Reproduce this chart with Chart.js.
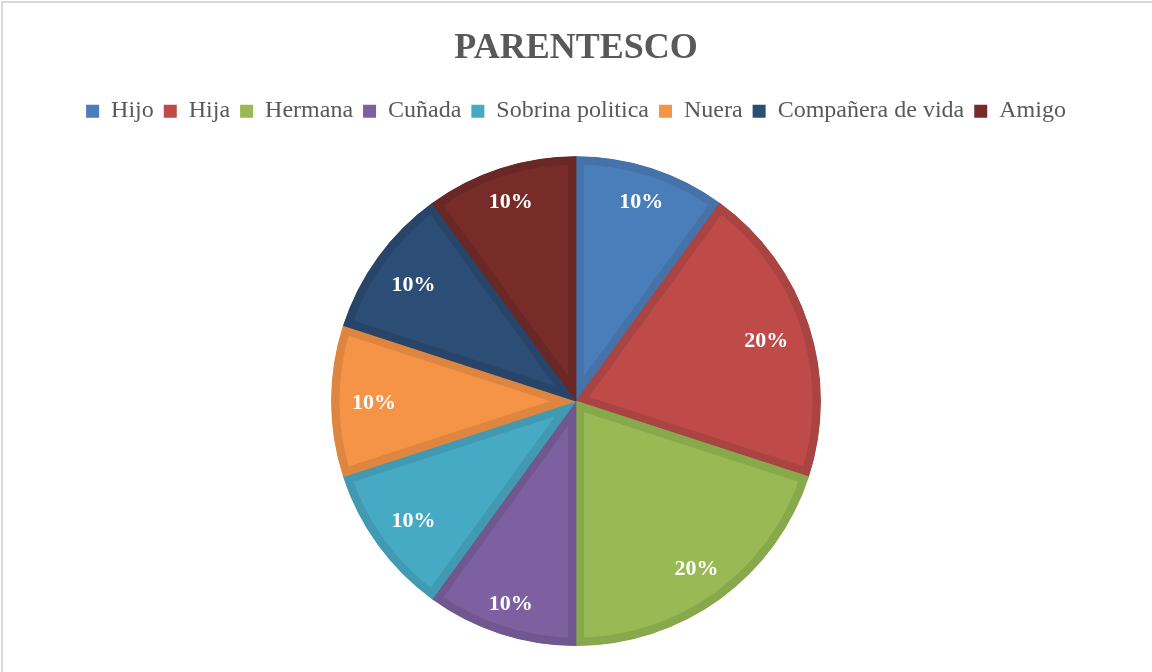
<!DOCTYPE html>
<html lang="es">
<head>
    <meta charset="UTF-8">
    <title>Parentesco</title>
    <script src="https://cdn.jsdelivr.net/npm/chart.js"></script>
    <style>
        body {
            margin: 0;
            background: #ffffff;
        }
        .chart-container {
            position: relative;
            width: 1152px;
            height: 672px;
        }
        .frame {
            position: absolute;
            left: 1px;
            top: 1px;
            right: 0;
            bottom: 0;
            border-top: 2px solid #d9d9d9;
            border-left: 2px solid #d9d9d9;
            pointer-events: none;
        }
    </style>
</head>
<body>
    <div class="chart-container">
        <canvas id="pieChart"></canvas>
        <div class="frame"></div>
    </div>

    <script>
        // data
        var categories = ["Hijo", "Hija", "Hermana", "Cuñada", "Sobrina politica", "Nuera", "Compañera de vida", "Amigo"];
        var percents = [10, 20, 20, 10, 10, 10, 10, 10];

        var fillColors = ["#4a7ebb", "#be4b48", "#98b954", "#7d60a0", "#46aac5", "#f59446", "#2c4d75", "#772c2a"];
        var edgeColors = ["#4472a9", "#a94442", "#88a84c", "#71578f", "#419ab1", "#de8540", "#284569", "#692726"];

        // extra room under the legend, the pie starts lower in the original
        var legendGap = {
            id: "legendGap",
            beforeInit: function (chart) {
                var origFit = chart.legend.fit;
                chart.legend.fit = function () {
                    origFit.bind(chart.legend)();
                    this.height += 23;
                };
            }
        };

        // percent labels drawn near the outer edge of each slice
        var sliceLabels = {
            id: "sliceLabels",
            afterDatasetsDraw: function (chart) {
                var ctx = chart.ctx;
                var meta = chart.getDatasetMeta(0);
                var total = percents.reduce(function (a, b) { return a + b; }, 0);
                ctx.save();
                ctx.font = "bold 22px 'Liberation Serif', serif";
                ctx.fillStyle = "#ffffff";
                ctx.textAlign = "center";
                ctx.textBaseline = "middle";
                meta.data.forEach(function (arc, i) {
                    var p = arc.getProps(["x", "y", "startAngle", "endAngle", "outerRadius"], true);
                    var mid = (p.startAngle + p.endAngle) / 2;
                    var ux = Math.cos(mid), uy = Math.sin(mid);
                    var text = Math.round(percents[i] / total * 100) + "%";
                    var hw = ctx.measureText(text).width / 2 + 7, hh = 11;
                    var extent = Math.abs(ux) * hw + Math.abs(uy) * hh;
                    var d = p.outerRadius - 14 - extent;
                    ctx.fillText(text, p.x + ux * d, p.y + uy * d + 2);
                });
                ctx.restore();
            }
        };

        var ctx = document.getElementById("pieChart").getContext("2d");
        var pieChart = new Chart(ctx, {
            type: "pie",
            data: {
                labels: categories,
                datasets: [{
                    data: percents,
                    backgroundColor: fillColors,
                    borderColor: edgeColors,
                    borderWidth: 8,
                    borderAlign: "inner"
                }]
            },
            options: {
                responsive: true,
                maintainAspectRatio: false,
                animation: false,
                layout: {
                    padding: { top: 14, bottom: 26, left: 0, right: 0 }
                },
                plugins: {
                    title: {
                        display: true,
                        text: "PARENTESCO",
                        color: "#595959",
                        font: { family: "'Liberation Serif', serif", size: 36, weight: "bold" },
                        padding: { top: 13, bottom: 19 }
                    },
                    legend: {
                        position: "top",
                        labels: {
                            color: "#595959",
                            font: { family: "'Liberation Serif', serif", size: 24 },
                            boxWidth: 13,
                            boxHeight: 13,
                            padding: 10,
                            generateLabels: function (chart) {
                                var items = Chart.overrides.pie.plugins.legend.labels.generateLabels(chart);
                                items.forEach(function (it) {
                                    it.lineWidth = 0;
                                    it.strokeStyle = it.fillStyle;
                                });
                                return items;
                            }
                        }
                    },
                    tooltip: { enabled: false }
                }
            },
            plugins: [legendGap, sliceLabels]
        });
    </script>
</body>
</html>
